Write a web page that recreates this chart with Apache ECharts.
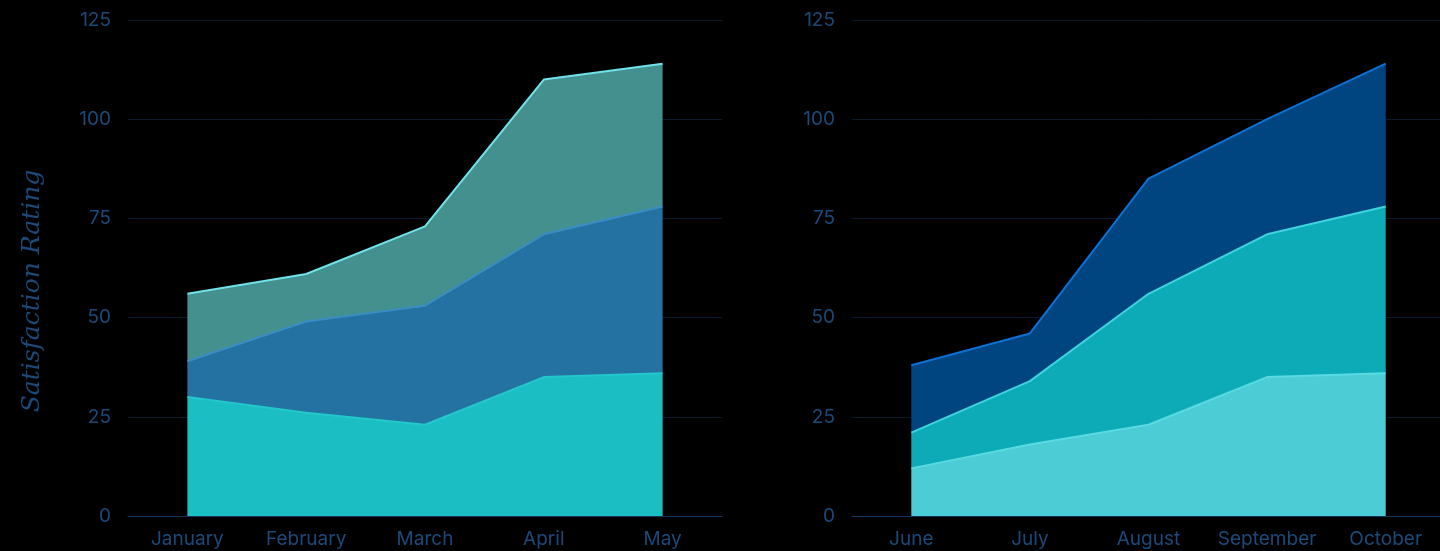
<!DOCTYPE html>
<html>
<head>
<meta charset="utf-8">
<script src="https://cdn.jsdelivr.net/npm/echarts@6/dist/echarts.min.js"></script>
<style>
html,body{margin:0;padding:0;background:#000;}
#chart{width:1440px;height:551px;}
</style>
</head>
<body>
<div id="chart"></div>
<script>
var leftMonths = ['January', 'February', 'March', 'April', 'May'];
var rightMonths = ['June', 'July', 'August', 'September', 'October'];
var yTicks = [0, 25, 50, 75, 100, 125];

var leftBase = [30, 26, 23, 35, 36];
var leftMid = [9, 23, 30, 36, 42];
var leftTop = [17, 12, 20, 39, 36];

var rightBase = [12, 18, 23, 35, 36];
var rightMid = [9, 16, 33, 36, 42];
var rightTop = [17, 12, 29, 29, 36];

var labelColor = '#1b4a7a';
var gridLineColor = '#0b1a2b';
var axisLineColor = '#12355a';

function yAxisCfg(idx, withName) {
  var cfg = {
    type: 'value', gridIndex: idx, min: yTicks[0], max: yTicks[yTicks.length - 1], interval: 25,
    axisLine: {show: false}, axisTick: {show: false},
    axisLabel: {color: labelColor, fontSize: 19, fontFamily: 'Inter', margin: 17},
    splitLine: {lineStyle: {color: gridLineColor, width: 1}}
  };
  if (withName) {
    cfg.name = 'Satisfaction Rating';
    cfg.nameLocation = 'middle';
    cfg.nameGap = 83;
    cfg.nameTextStyle = {color: labelColor, fontSize: 25, fontStyle: 'italic', fontFamily: 'DejaVu Serif', padding: [0, 46, 0, 0]};
  }
  return cfg;
}
function xAxisCfg(idx, cats) {
  return {
    type: 'category', gridIndex: idx, data: cats, boundaryGap: true,
    axisLine: {lineStyle: {color: axisLineColor, width: 1}},
    axisTick: {show: false},
    axisLabel: {color: labelColor, fontSize: 19, fontFamily: 'Inter', margin: 14, interval: 0},
    splitLine: {show: false}
  };
}
function areaSeries(idx, stack, data, fill, line, name) {
  return {
    name: name, type: 'line', xAxisIndex: idx, yAxisIndex: idx, stack: stack, data: data,
    symbol: 'none', smooth: false,
    lineStyle: {color: line, width: 2},
    areaStyle: {color: fill, opacity: 1},
    emphasis: {disabled: true}
  };
}

var chart = echarts.init(document.getElementById('chart'));
chart.setOption({
  backgroundColor: '#000000',
  animation: false,
  grid: [
    {left: 128, top: 20, width: 594, height: 496, outerBoundsMode: 'none'},
    {left: 852, top: 20, width: 593, height: 496, outerBoundsMode: 'none'}
  ],
  xAxis: [xAxisCfg(0, leftMonths), xAxisCfg(1, rightMonths)],
  yAxis: [yAxisCfg(0, true), yAxisCfg(1, false)],
  series: [
    areaSeries(0, 'L', leftBase, 'rgba(28,196,200,0.97)', '#22c8cc', 'Base'),
    areaSeries(0, 'L', leftMid, 'rgba(36,118,166,0.97)', '#3a8cc4', 'Mid'),
    areaSeries(0, 'L', leftTop, 'rgba(72,152,150,0.95)', '#70e2ea', 'Top'),
    areaSeries(1, 'R', rightBase, 'rgba(78,211,219,0.97)', '#5adae2', 'Base'),
    areaSeries(1, 'R', rightMid, 'rgba(12,177,189,0.97)', '#3ed4de', 'Mid'),
    areaSeries(1, 'R', rightTop, 'rgba(0,72,135,0.95)', '#0a72d6', 'Top')
  ]
});
</script>
</body>
</html>
